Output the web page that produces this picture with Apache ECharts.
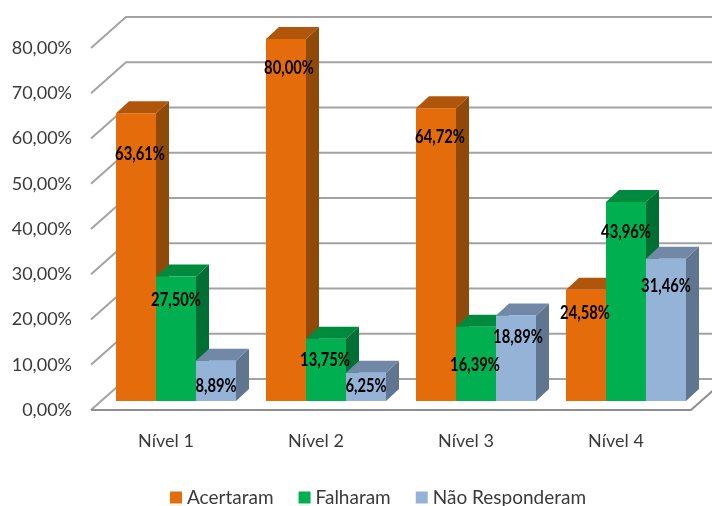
<!DOCTYPE html>
<html><head><meta charset="utf-8">
<style>html,body{margin:0;padding:0;background:#fff}#c{width:712px;height:506px}</style>
<script src="https://cdn.jsdelivr.net/npm/echarts@6/dist/echarts.min.js"></script>
</head><body><div id="c"></div>
<script>
const categories = ['Nível 1','Nível 2','Nível 3','Nível 4'];
const acertaram = [63.61,80.00,64.72,24.58];
const falharam = [27.50,13.75,16.39,43.96];
const naoResponderam = [8.89,6.25,18.89,31.46];
const yTicks = [0,10,20,30,40,50,60,70,80];

const fmt = v => v.toFixed(2).replace('.',',')+'%';
const WALL = [35,-31], BAR_PLANE = [10,-9], BAR_DEPTH = [13,-12];
const BAR_W = 40/150;
const FONT = 'Lato,"Noto Sans",sans-serif';

const labelShift = [
  [[4,41],[3,29],[4,29],[-1,23]],
  [[0,24],[-1,21],[-1,38],[0,30]],
  [[0,25],[0,13],[2,22],[0,28]]
];

function poly(points,fill,z2){return {type:'polygon',shape:{points},style:{fill},z2};}

function barSeries(name,values,idx,cFront,cTop,cSide){
  return {
    name,type:'custom',coordinateSystem:'cartesian2d',
    itemStyle:{color:cFront},
    data:values.map((v,i)=>[i,v]),
    encode:{x:0,y:1},
    renderItem(params,api){
      const i=api.value(0), v=api.value(1);
      const top=api.coord([i,v]), base=api.coord([i,0]);
      const w=api.size([1,0])[0]*BAR_W;
      const x0=top[0]+BAR_PLANE[0]+(idx-1.5)*w;
      const x1=x0+w, yT=top[1]+BAR_PLANE[1], yB=base[1]+BAR_PLANE[1];
      const [dx,dy]=BAR_DEPTH;
      const s=labelShift[idx][i];
      const lx=(x0+x1)/2+s[0], ly=yT+s[1];
      return {type:'group',children:[
        poly([[x1,yT],[x1+dx,yT+dy],[x1+dx,yB+dy],[x1,yB]],cSide,1),
        poly([[x0,yT],[x0+dx,yT+dy],[x1+dx,yT+dy],[x1,yT]],cTop,1),
        {type:'rect',shape:{x:x0,y:yT,width:w,height:yB-yT},style:{fill:cFront},z2:2},
        {type:'text',z2:100,scaleX:0.82,originX:lx,originY:ly,
          style:{text:fmt(v),x:lx,y:ly,align:'center',verticalAlign:'middle',
          fill:'#000',font:'bold 18px '+FONT}}
      ]};
    }
  };
}

const gridLines = {
  type:'custom',coordinateSystem:'cartesian2d',silent:true,z:1,
  data:yTicks.map(v=>[0,v]),encode:{y:1},
  renderItem(params,api){
    const v=api.value(1), y=api.coord([0,v])[1], c=params.coordSys;
    const x0=c.x, x1=c.x+c.width;
    const ls={stroke:'#a3a3a3',lineWidth:2,fill:null};
    const kids=[{type:'polyline',shape:{points:[[x0,y],[x0+WALL[0],y+WALL[1]],[x1+WALL[0],y+WALL[1]]]},style:ls}];
    if(v===0) kids.push({type:'polyline',shape:{points:[[x0,y],[x1,y],[x1+WALL[0],y+WALL[1]]]},style:{stroke:'#8f8f8f',lineWidth:2,fill:null}});
    return {type:'group',children:kids};
  }
};

const chart = echarts.init(document.getElementById('c'),null,{renderer:'canvas'});
chart.setOption({
  animation:false,backgroundColor:'#fff',
  grid:{left:91,width:600,top:48,height:362,outerBoundsMode:'none'},
  xAxis:{type:'category',data:categories,axisLine:{show:false},axisTick:{show:false},
    axisLabel:{margin:22,color:'#3a3a3a',fontSize:18,fontFamily:FONT}},
  yAxis:{type:'value',min:0,max:80,interval:10,splitLine:{show:false},axisLine:{show:false},axisTick:{show:false},
    axisLabel:{formatter:fmt,margin:19,color:'#3a3a3a',fontSize:18,fontFamily:FONT}},
  legend:{left:165,top:483,itemWidth:12,itemHeight:12,itemGap:25,icon:'rect',
    data:['Acertaram','Falharam','Não Responderam'],
    textStyle:{color:'#3a3a3a',fontSize:19,fontFamily:FONT}},
  series:[gridLines,
    barSeries('Acertaram',acertaram,0,'#E46C0A','#B0560A','#8F4A0A'),
    barSeries('Falharam',falharam,1,'#00B050','#008A3E','#006F33'),
    barSeries('Não Responderam',naoResponderam,2,'#95B3D7','#7188A6','#5F7590')
  ]
});
</script></body></html>
